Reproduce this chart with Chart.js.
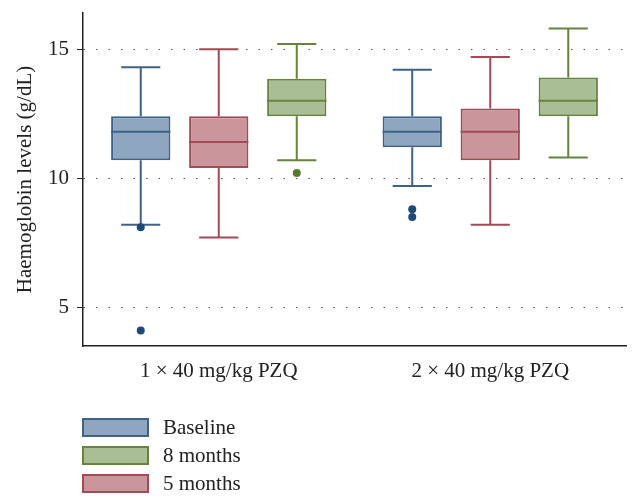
<!DOCTYPE html>
<html>
<head>
<meta charset="utf-8">
<script src="https://cdn.jsdelivr.net/npm/chart.js@4/dist/chart.umd.min.js"></script>
<style>
  body { margin: 0; background: #fff; }
  #wrap { position: relative; width: 641px; height: 501px; }
  #legend { position: absolute; left: 82px; top: 413px; font-family: 'Liberation Serif', serif; font-size: 21px; color: #222; }
  .item { display: flex; align-items: center; height: 28px; }
  .swatch { width: 63px; height: 15px; border: 2px solid; margin-right: 14px; }
</style>
</head>
<body>
<div id="wrap">
  <canvas id="chart" width="641" height="501"></canvas>
  <div id="legend"></div>
</div>
<script>
const groups = ['1 × 40 mg/kg PZQ', '2 × 40 mg/kg PZQ'];
const seriesNames = ['Baseline', '5 months', '8 months'];
const whiskerLow = [[8.2, 9.7], [7.7, 8.2], [10.7, 10.8]];
const quartile1 = [[10.7, 11.2], [10.4, 10.7], [12.4, 12.4]];
const medians = [[11.8, 11.8], [11.4, 11.8], [13.0, 13.0]];
const quartile3 = [[12.4, 12.4], [12.4, 12.7], [13.85, 13.9]];
const whiskerHigh = [[14.3, 14.2], [15.0, 14.7], [15.2, 15.8]];
const outliers = [[[8.1, 4.1], [8.8, 8.5]], [[], []], [[10.2], []]];
const yTicks = [5, 10, 15];
const legendOrder = ['Baseline', '8 months', '5 months'];

const fills = { 'Baseline': '#8ea6c0', '5 months': '#ca969c', '8 months': '#aabe96' };
const borders = { 'Baseline': '#3e6288', '5 months': '#a04b56', '8 months': '#668440' };
const dots = { 'Baseline': '#1f4a76', '5 months': '#a04b56', '8 months': '#587a2c' };
const fontFamily = "'Liberation Serif', serif";

const boxPlotMarks = {
  id: 'boxPlotMarks',
  afterDatasetsDraw(chart) {
    const ctx = chart.ctx;
    const y = chart.scales.y;
    chart.data.datasets.forEach((ds, s) => {
      const meta = chart.getDatasetMeta(s);
      const name = seriesNames[s];
      meta.data.forEach((bar, i) => {
        const x = bar.x;
        const half = bar.width / 2;
        const cap = bar.width * 0.33;
        ctx.save();
        ctx.strokeStyle = borders[name];
        ctx.lineWidth = 2;
        ctx.beginPath();
        ctx.moveTo(x, y.getPixelForValue(quartile3[s][i]));
        ctx.lineTo(x, y.getPixelForValue(whiskerHigh[s][i]));
        ctx.moveTo(x, y.getPixelForValue(quartile1[s][i]));
        ctx.lineTo(x, y.getPixelForValue(whiskerLow[s][i]));
        ctx.moveTo(x - cap, y.getPixelForValue(whiskerHigh[s][i]));
        ctx.lineTo(x + cap, y.getPixelForValue(whiskerHigh[s][i]));
        ctx.moveTo(x - cap, y.getPixelForValue(whiskerLow[s][i]));
        ctx.lineTo(x + cap, y.getPixelForValue(whiskerLow[s][i]));
        ctx.moveTo(x - half, y.getPixelForValue(medians[s][i]));
        ctx.lineTo(x + half, y.getPixelForValue(medians[s][i]));
        ctx.stroke();
        ctx.fillStyle = dots[name];
        outliers[s][i].forEach((v) => {
          ctx.beginPath();
          ctx.arc(x, y.getPixelForValue(v), 4, 0, Math.PI * 2);
          ctx.fill();
        });
        ctx.restore();
      });
    });
  }
};

new Chart(document.getElementById('chart'), {
  type: 'bar',
  data: {
    labels: groups,
    datasets: seriesNames.map((name, s) => ({
      label: name,
      data: groups.map((g, i) => [quartile1[s][i], quartile3[s][i]]),
      backgroundColor: fills[name],
      borderColor: borders[name],
      borderWidth: 2,
      borderSkipped: false,
      categoryPercentage: 0.862,
      barPercentage: 0.76,
    })),
  },
  options: {
    responsive: false,
    animation: false,
    devicePixelRatio: 1,
    layout: { padding: { top: 13, right: 15, left: 0, bottom: 0 } },
    plugins: {
      legend: { display: false },
      tooltip: { enabled: false },
    },
    scales: {
      x: {
        grid: { display: false },
        border: { display: true, color: '#222', width: 1.5 },
        ticks: { color: '#222', font: { family: fontFamily, size: 21 }, padding: 5 },
        afterFit: (scale) => { scale.height = 155; },
      },
      y: {
        min: 3.5,
        max: 16.4,
        afterBuildTicks: (scale) => { scale.ticks = yTicks.map((v) => ({ value: v })); },
        grid: { color: '#555', lineWidth: 1, tickColor: '#222', tickLength: 6, tickBorderDash: [] },
        border: { display: true, color: '#222', width: 1.5, dash: [1.5, 11] },
        ticks: { color: '#222', font: { family: fontFamily, size: 21 }, padding: 8 },
        title: {
          display: true,
          text: 'Haemoglobin levels (g/dL)',
          color: '#222',
          font: { family: fontFamily, size: 21 },
          padding: { top: 13, bottom: 0 },
        },
        afterFit: (scale) => {
          scale.width = 83;
          scale.paddingTop = 0;
          scale.paddingBottom = 0;
        },
      },
    },
  },
  plugins: [boxPlotMarks],
});

const legend = document.getElementById('legend');
legendOrder.forEach((name) => {
  const item = document.createElement('div');
  item.className = 'item';
  const swatch = document.createElement('span');
  swatch.className = 'swatch';
  swatch.style.background = fills[name];
  swatch.style.borderColor = borders[name];
  const text = document.createElement('span');
  text.textContent = name;
  item.appendChild(swatch);
  item.appendChild(text);
  legend.appendChild(item);
});
</script>
</body>
</html>
